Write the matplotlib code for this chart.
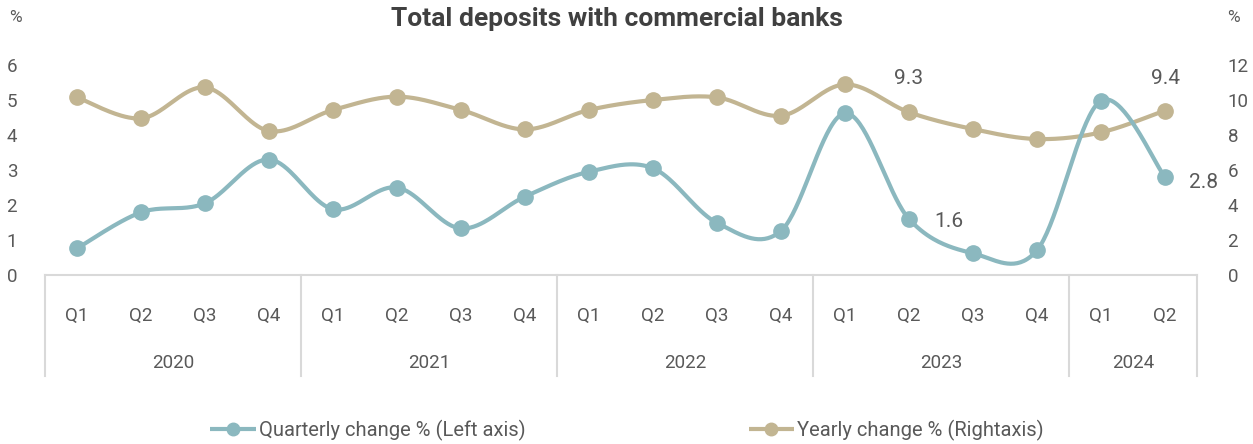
import numpy as np
import matplotlib
matplotlib.use("Agg")
import matplotlib.pyplot as plt
from matplotlib.lines import Line2D

# Quarterly and yearly change in total deposits with commercial banks
years = ["2020", "2021", "2022", "2023", "2024"]
quarters_per_year = [4, 4, 4, 4, 2]
quarter_labels = ["Q1", "Q2", "Q3", "Q4"] * 4 + ["Q1", "Q2"]
quarterly = [0.76, 1.79, 2.05, 3.30, 1.88, 2.50, 1.33, 2.24, 2.95, 3.05,
             1.49, 1.26, 4.62, 1.6, 0.62, 0.71, 4.98, 2.8]
yearly = [10.15, 8.95, 10.72, 8.23, 9.43, 10.19, 9.43, 8.32, 9.43, 10.0,
          10.15, 9.1, 10.89, 9.3, 8.34, 7.77, 8.15, 9.4]
left_ticks = [0, 1, 2, 3, 4, 5, 6]
right_ticks = [0, 2, 4, 6, 8, 10, 12]

FONT = ["Roboto", "DejaVu Sans"]
plt.rcParams["font.family"] = FONT

BLUE = "#8BB8BF"
TAN = "#C2B592"
TEXT = "#595959"
GRID = "#D9D9D9"


def smooth(xs, ys, n=40):
    """Catmull-Rom style smoothed curve through the given points."""
    pts = np.column_stack([xs, ys]).astype(float)
    P = np.vstack([pts[0], pts, pts[-1]])
    t = np.linspace(0, 1, n)[:, None]
    out = []
    for i in range(len(pts) - 1):
        p0, p1, p2, p3 = P[i], P[i + 1], P[i + 2], P[i + 3]
        c1 = p1 + (p2 - p0) / 6.0
        c2 = p2 - (p3 - p1) / 6.0
        seg = ((1 - t) ** 3) * p1 + 3 * ((1 - t) ** 2) * t * c1 + 3 * (1 - t) * t ** 2 * c2 + t ** 3 * p2
        out.append(seg if i == 0 else seg[1:])
    out = np.vstack(out)
    return out[:, 0], out[:, 1]


W, H = 1253, 444
fig = plt.figure(figsize=(W / 100, H / 100), dpi=100)
left, right, bottom, top = 45, 1197, 275, 65
ax = fig.add_axes([left / W, (H - bottom) / H, (right - left) / W, (bottom - top) / H])
ax2 = ax.twinx()

x = np.arange(len(quarterly))
ax.set_xlim(-0.5, len(quarterly) - 0.5)
ax.set_ylim(0, 6)
ax2.set_ylim(0, 12)

# yearly change on the right axis
sx, sy = smooth(x, yearly)
ax2.plot(sx, sy, color=TAN, lw=3.0, solid_capstyle="round", zorder=2)
ax2.plot(x, yearly, "o", color=TAN, ms=11, zorder=3)

# quarterly change on the left axis, drawn above
sx, sy = smooth(x, quarterly)
ax.plot(sx, sy, color=BLUE, lw=3.0, solid_capstyle="round", zorder=2)
ax.plot(x, quarterly, "o", color=BLUE, ms=11, zorder=3)
ax.set_zorder(ax2.get_zorder() + 1)
ax.patch.set_visible(False)

for a in (ax, ax2):
    for s in ("top", "left", "right", "bottom"):
        a.spines[s].set_visible(False)

ax.set_yticks(left_ticks)
ax.set_yticklabels([str(v) for v in left_ticks])
ax.tick_params(axis="y", length=0, pad=20, labelsize=13.5, labelcolor=TEXT)
ax2.set_yticks(right_ticks)
ax2.set_yticklabels([str(v) for v in right_ticks])
ax2.tick_params(axis="y", length=0, pad=22, labelsize=13.5, labelcolor=TEXT)
ax2.set_xticks([])

# category axis: quarters and years
ax.set_xticks(x)
ax.set_xticklabels(quarter_labels)
ax.tick_params(axis="x", length=0, pad=23, labelsize=13.5, labelcolor=TEXT)
tr = ax.get_xaxis_transform()
sep_depth = 101 / (bottom - top)
ax.add_line(Line2D([-0.5, len(quarterly) - 0.5], [0, 0], transform=tr, color=GRID, lw=1.5, clip_on=False))
edges = np.concatenate([[0], np.cumsum(quarters_per_year)]) - 0.5
for e in edges:
    ax.add_line(Line2D([e, e], [0, -sep_depth], transform=tr, color=GRID, lw=1.5, clip_on=False))
for yr, a, b in zip(years, edges[:-1], edges[1:]):
    ax.text((a + b) / 2, -88 / (bottom - top), yr, transform=tr, ha="center", va="center",
            fontsize=13.5, color=TEXT)

# data labels
ax2.annotate(f"{yearly[13]}", (x[13], yearly[13]), xytext=(0, 24), textcoords="offset points",
             ha="center", va="center", fontsize=15, color=TEXT)
ax2.annotate(f"{yearly[17]}", (x[17], yearly[17]), xytext=(0, 23), textcoords="offset points",
             ha="center", va="center", fontsize=15, color=TEXT)
ax.annotate(f"{quarterly[13]}", (x[13], quarterly[13]), xytext=(29, -2), textcoords="offset points",
            ha="center", va="center", fontsize=15, color=TEXT)
ax.annotate(f"{quarterly[17]}", (x[17], quarterly[17]), xytext=(28, -4), textcoords="offset points",
            ha="center", va="center", fontsize=15, color=TEXT)

# title and unit labels
fig.text(617 / W, 1 - 19 / H, "Total deposits with commercial banks", ha="center", va="center",
         fontsize=19, fontweight="bold", color="#404040")
fig.text(15 / W, 1 - 18 / H, "%", ha="center", va="center", fontsize=12.5, color=TEXT)
fig.text(1233 / W, 1 - 18 / H, "%", ha="center", va="center", fontsize=12.5, color=TEXT)

handles = [
    Line2D([], [], color=BLUE, lw=3.0, marker="o", ms=9, markevery=[1], solid_capstyle="butt"),
    Line2D([], [], color=TAN, lw=3.0, marker="o", ms=9, markevery=[1], solid_capstyle="butt"),
]
for h in handles:
    h.set_data([0, 0.5, 1], [0, 0, 0])
fig.legend(handles, ["Quarterly change % (Left axis)", "Yearly change % (Rightaxis)"],
           loc="center", bbox_to_anchor=(627 / W, 1 - 430 / H), ncol=2, frameon=False,
           fontsize=14.5, labelcolor=TEXT, handlelength=2.25, handletextpad=0.15,
           columnspacing=11.1)

fig.savefig("out.png", dpi=100)
